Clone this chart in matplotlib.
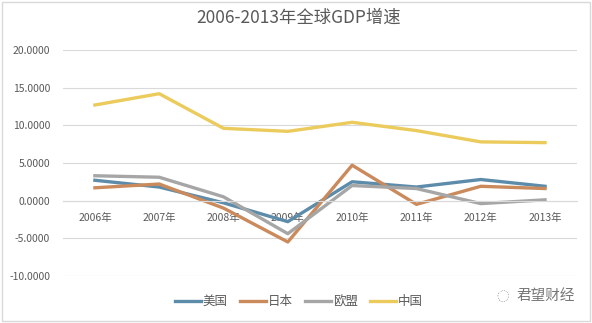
import matplotlib
matplotlib.use("Agg")
import matplotlib.pyplot as plt
from matplotlib.patches import Rectangle

plt.rcParams['font.family'] = ['Noto Sans CJK SC', 'DejaVu Sans']

years = ["2006年", "2007年", "2008年", "2009年", "2010年", "2011年", "2012年", "2013年"]
usa = [2.7, 1.8, -0.3, -2.8, 2.5, 1.8, 2.8, 1.9]
japan = [1.7, 2.2, -1.0, -5.5, 4.7, -0.5, 1.9, 1.6]
eu = [3.3, 3.1, 0.5, -4.4, 2.0, 1.6, -0.4, 0.1]
china = [12.7, 14.2, 9.6, 9.2, 10.4, 9.3, 7.8, 7.7]

series = [("美国", usa, "#5D8CAB"), ("日本", japan, "#CB8A5C"),
          ("欧盟", eu, "#A6A6A6"), ("中国", china, "#EBCB5C")]

txt = "#595959"
fig = plt.figure(figsize=(5.92, 3.23), dpi=100)
ax = fig.add_axes([0.106, 0.146, 0.869, 0.699])

x = list(range(len(years)))
for name, vals, col in series:
    ax.plot(x, vals, color=col, lw=2.4, label=name, solid_joinstyle="round")

ax.set_xlim(-0.5, 7.5)
ax.set_ylim(-10, 20)
ax.set_yticks([-10, -5, 0, 5, 10, 15, 20])
ax.set_yticklabels(["%.4f" % v for v in [-10, -5, 0, 5, 10, 15, 20]], color=txt, fontsize=7.5)
ax.grid(axis="y", color="#D9D9D9", lw=0.8)
ax.set_axisbelow(True)
for s in ["top", "right", "left"]:
    ax.spines[s].set_visible(False)
ax.spines["bottom"].set_position(("data", 0))
ax.spines["bottom"].set_color("#D9D9D9")
ax.spines["bottom"].set_linewidth(0.8)
ax.set_xticks(x)
ax.set_xticklabels(years, color=txt, fontsize=7.5)
ax.tick_params(axis="both", length=0)
ax.tick_params(axis="x", pad=9)
ax.tick_params(axis="y", pad=9)

fig.text(0.505, 0.945, "2006-2013年全球GDP增速", ha="center", va="center",
         fontsize=12.5, color=txt)

fig.legend(loc="center", bbox_to_anchor=(0.505, 0.066), ncol=4, frameon=False,
           fontsize=9, handlelength=2.1, handletextpad=0.1, columnspacing=1.0,
           labelcolor=txt)

fig.text(0.972, 0.085, "君望财经", ha="right", va="center", fontsize=10.5, color="#777777")
fig.text(0.86, 0.08, "◌", ha="right", va="center", fontsize=9, color="#999999")

fig.patches.append(Rectangle((0.003, 0.006), 0.994, 0.988, transform=fig.transFigure,
                             fill=False, edgecolor="#D9D9D9", lw=1))

fig.savefig("out.png", dpi=100)
